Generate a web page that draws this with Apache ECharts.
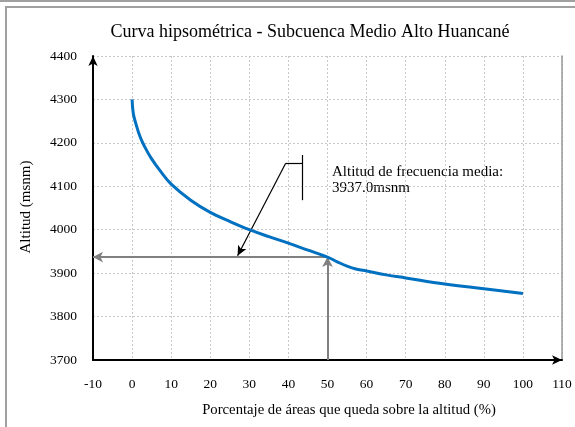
<!DOCTYPE html>
<html><head><meta charset="utf-8">
<script src="https://cdn.jsdelivr.net/npm/echarts@6/dist/echarts.min.js"></script>
<style>html,body{margin:0;padding:0;background:#fff}#c{width:575px;height:427px}</style>
</head><body><div id="c"></div>
<script>
const pctArea = [0, 0.3, 1, 2, 3, 5, 7.5, 10, 15, 20, 25, 30, 35, 40, 45, 50, 52.5, 55, 57.5, 60, 65, 70, 80, 90, 100];
const altitude = [4300, 4268, 4243, 4215, 4195, 4163, 4132, 4105, 4068, 4040, 4019, 4000, 3984, 3969, 3953, 3937, 3926, 3916, 3909, 3905, 3896, 3889, 3875, 3864, 3853];
const meanAltitude = 3937.0;
const meanPct = 50;
const xTicks = [-10, 110, 10];
const yTicks = [3700, 4400, 100];
const calloutStart = [39.3, 4153];
const calloutTip = [27, 3940];
const calloutElbow = [43.6, 4153];
const calloutBarTop = [43.6, 4172];
const calloutBarBottom = [43.6, 4068];
const titleText = 'Curva hipsométrica - Subcuenca Medio Alto Huancané';
const xName = 'Porcentaje de áreas que queda sobre la altitud (%)';
const yName = 'Altitud (msnm)';
const noteLines = ['Altitud de frecuencia media:', meanAltitude.toFixed(1) + 'msnm'];

const serif = 'Liberation Serif';
const chart = echarts.init(document.getElementById('c'));
const curve = pctArea.map((x, i) => [x, altitude[i]]);
chart.setOption({
  animation: false,
  grid: {left: 93, right: 13, top: 56, bottom: 67},
  xAxis: {
    type: 'value', min: xTicks[0], max: xTicks[1], interval: xTicks[2],
    axisLine: {show: true, onZero: false, lineStyle: {color: '#000', width: 2}, symbol: ['none', 'arrow'], symbolSize: [7, 10]},
    axisTick: {show: false},
    axisLabel: {fontFamily: serif, fontSize: 13.5, color: '#000', margin: 17},
    splitLine: {show: true, lineStyle: {color: '#c8c8c8', type: [2, 2], width: 1}}
  },
  yAxis: [{
    type: 'value', min: yTicks[0], max: yTicks[1], interval: yTicks[2],
    axisLine: {show: true, onZero: false, lineStyle: {color: '#000', width: 2}, symbol: ['none', 'arrow'], symbolSize: [7, 10]},
    axisTick: {show: false},
    axisLabel: {fontFamily: serif, fontSize: 13.5, color: '#000', margin: 16, formatter: v => String(v)},
    splitLine: {show: true, lineStyle: {color: '#c8c8c8', type: [2, 2], width: 1}}
  }, {
    type: 'value', position: 'right', min: yTicks[0], max: yTicks[1], interval: yTicks[2],
    axisLine: {show: true, onZero: false, lineStyle: {color: '#999', width: 1.5}},
    axisTick: {show: false}, axisLabel: {show: false}, splitLine: {show: false}
  }],
  series: [{
    type: 'line', data: curve, smooth: 0.4, showSymbol: false,
    lineStyle: {color: '#0070C0', width: 3}, z: 5
  }, {
    type: 'line', data: [], silent: true,
    markLine: {
      silent: true, animation: false, label: {show: false},
      symbol: ['none', 'arrow'], symbolSize: [8, 10],
      lineStyle: {color: '#808080', width: 2, type: 'solid'},
      data: [
        [{coord: [meanPct, yTicks[0]]}, {coord: [meanPct, meanAltitude]}],
        [{coord: [meanPct, meanAltitude]}, {coord: [xTicks[0], meanAltitude]}]
      ]
    }
  }, {
    type: 'line', data: [], silent: true,
    markLine: {
      silent: true, animation: false, label: {show: false},
      lineStyle: {color: '#000', width: 1.2, type: 'solid'},
      data: [
        [{coord: calloutStart, symbol: 'none'}, {coord: calloutTip, symbol: 'arrow', symbolSize: [7, 10]}],
        [{coord: calloutStart, symbol: 'none'}, {coord: calloutElbow, symbol: 'none'}],
        [{coord: calloutBarTop, symbol: 'none'}, {coord: calloutBarBottom, symbol: 'none'}]
      ]
    }
  }],
  graphic: [
    {type: 'rect', shape: {x: 6, y: 7, width: 600, height: 500}, style: {fill: 'none', stroke: '#a0a0a0', lineWidth: 2}, silent: true},
    {type: 'line', shape: {x1: 0, y1: 1, x2: 575, y2: 1}, style: {stroke: '#a0a0a0', lineWidth: 2}, silent: true},
    {type: 'text', x: 310, y: 32, style: {text: titleText, font: '18px "Liberation Serif"', fill: '#000', textAlign: 'center', textVerticalAlign: 'middle'}},
    {type: 'text', x: 349, y: 410, style: {text: xName, font: '14.7px "Liberation Serif"', fill: '#000', textAlign: 'center', textVerticalAlign: 'middle'}},
    {type: 'text', x: 26, y: 207, rotation: Math.PI / 2, style: {text: yName, font: '15px "Liberation Serif"', fill: '#000', textAlign: 'center', textVerticalAlign: 'middle'}},
    {type: 'text', x: 332, y: 172, style: {text: noteLines[0], font: '15px "Liberation Serif"', fill: '#000', textAlign: 'left', textVerticalAlign: 'middle'}},
    {type: 'text', x: 332, y: 188, style: {text: noteLines[1], font: '15px "Liberation Serif"', fill: '#000', textAlign: 'left', textVerticalAlign: 'middle'}}
  ]
});
</script></body></html>
